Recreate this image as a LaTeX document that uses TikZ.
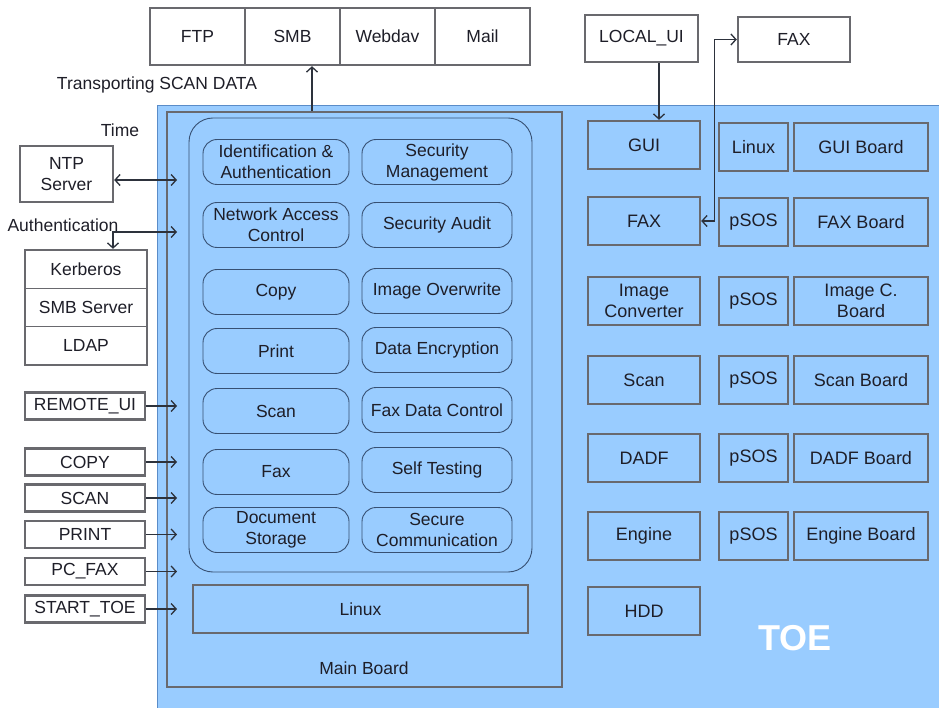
\documentclass[tikz,border=0pt]{standalone}
\usepackage{fontspec}
\setmainfont{Liberation Sans}
\usetikzlibrary{arrows.meta}
\definecolor{toeblue}{RGB}{153,204,255}
\definecolor{toeedge}{RGB}{90,140,200}
\definecolor{gborder}{RGB}{105,105,110}
\definecolor{fborder}{RGB}{55,80,115}
\definecolor{txt}{RGB}{30,30,40}
\definecolor{arrcol}{RGB}{45,50,60}
\begin{document}
\begin{tikzpicture}[x=1pt,y=-1pt,
  font=\fontsize{17.5}{21}\selectfont, text=txt,
  graybox/.style={draw=gborder, line width=2.4pt, inner sep=0pt, align=center},
  wbox/.style={graybox, fill=white},
  bbox/.style={graybox, fill=toeblue},
  func/.style={draw=fborder, line width=0.9pt, rounded corners=14pt, minimum height=45pt, inner sep=0pt, align=center},
  lfunc/.style={func, minimum width=146pt},
  rfunc/.style={func, minimum width=150pt},
  leftbox/.style={wbox, minimum width=120pt, minimum height=27pt},
  c1/.style={bbox, minimum width=112pt, minimum height=48pt, font=\fontsize{18}{21}\selectfont},
  c2/.style={bbox, minimum width=69pt, minimum height=48pt, font=\fontsize{18}{21}\selectfont},
  c3/.style={bbox, minimum width=134pt, minimum height=48pt, font=\fontsize{18}{21}\selectfont},
  arr/.style={draw=arrcol, line width=1.3pt, -{Straight Barb[length=5pt,width=11pt]}},
  darr/.style={draw=arrcol, line width=1.3pt, {Straight Barb[length=5pt,width=11pt]}-{Straight Barb[length=5pt,width=11pt]}}
]
\useasboundingbox (0,0) rectangle (939,708);
% TOE background
\fill[toeblue] (157,106) rectangle (939,708);
\draw[toeedge, line width=1pt] (157,708) -- (157,106) -- (939,106);

% Top transport boxes
\node[wbox, minimum width=95pt, minimum height=57pt] (ftp) at (197.5,36.5) {FTP};
\node[wbox, minimum width=95pt, minimum height=57pt] (smb) at (292.5,36.5) {SMB};
\node[wbox, minimum width=95pt, minimum height=57pt] (webdav) at (387.5,36.5) {Webdav};
\node[wbox, minimum width=95pt, minimum height=57pt] (mail) at (482.5,36.5) {Mail};
\node (transport) at (157,85) {Transporting SCAN DATA};

% Main board
\node[draw=gborder, line width=2.4pt, minimum width=395pt, minimum height=575pt, inner sep=0pt] (mb) at (364.5,399.5) {};
\node (mblabel) at (364,668) {Main Board};
\node[draw=fborder, line width=0.9pt, rounded corners=24pt, minimum width=343pt, minimum height=454pt, inner sep=0pt] (grp) at (360.5,345) {};
\node[bbox, minimum width=335pt, minimum height=48pt] (mlinux) at (360.5,609) {Linux};

% Function boxes
\node[lfunc] (ia) at (276,162) {Identification \&\\Authentication};
\node[rfunc] (sm) at (437,162) {Security\\Management};
\node[lfunc] (nac) at (276,225) {Network Access\\Control};
\node[rfunc] (sa) at (437,225) {Security Audit};
\node[lfunc] (fcopy) at (276,292) {Copy};
\node[rfunc] (io) at (437,291) {Image Overwrite};
\node[lfunc] (fprint) at (276,351) {Print};
\node[rfunc] (de) at (437,350) {Data Encryption};
\node[lfunc] (fscan) at (276,411) {Scan};
\node[rfunc] (fdc) at (437,410) {Fax Data Control};
\node[lfunc] (ffax) at (276,472) {Fax};
\node[rfunc] (st) at (437,470) {Self Testing};
\node[lfunc] (ds) at (276,530) {Document\\Storage};
\node[rfunc] (sc) at (437,530) {Secure\\Communication};

% Right side components
\node[wbox, minimum width=113pt, minimum height=47pt] (lui) at (641.5,38.5) {LOCAL\_UI};
\node[wbox, minimum width=112pt, minimum height=45pt] (faxt) at (794,39.5) {FAX};

\node[c1] (gui) at (644,145) {GUI};
\node[c2] (os1) at (753.5,147) {Linux};
\node[c3] (b1) at (861,147) {GUI Board};
\node[c1] (faxin) at (644,221) {FAX};
\node[c2] (os2) at (753.5,222) {pSOS};
\node[c3] (b2) at (861,222) {FAX Board};
\node[c1] (ic) at (644,301) {Image\\Converter};
\node[c2] (os3) at (753.5,301) {pSOS};
\node[c3] (b3) at (861,301) {Image C.\\Board};
\node[c1] (sscan) at (644,380) {Scan};
\node[c2] (os4) at (753.5,380) {pSOS};
\node[c3] (b4) at (861,380) {Scan Board};
\node[c1] (dadf) at (644,458) {DADF};
\node[c2] (os5) at (753.5,458) {pSOS};
\node[c3] (b5) at (861,458) {DADF Board};
\node[c1] (engine) at (644,536) {Engine};
\node[c2] (os6) at (753.5,536) {pSOS};
\node[c3] (b6) at (861,536) {Engine Board};
\node[c1] (hdd) at (644,611) {HDD};
\node[text=white, font=\fontsize{36}{40}\selectfont\bfseries] (toe) at (795,638) {TOE};

% Left side
\node[wbox, minimum width=93pt, minimum height=56pt] (ntp) at (66.5,174) {NTP\\Server};
\node (time) at (120,130) {Time};
\node (authl) at (63,225) {Authentication};
\node[wbox, minimum width=122pt, minimum height=115pt] (kstack) at (86,307.5) {};
\node[inner sep=0pt, minimum width=122pt, minimum height=38.3pt] (kerb) at (86,269.2) {Kerberos};
\node[inner sep=0pt, minimum width=122pt, minimum height=38.3pt] (smbs) at (86,307.5) {SMB Server};
\node[inner sep=0pt, minimum width=122pt, minimum height=38.3pt] (ldap) at (86,345.8) {LDAP};
\draw[gborder, line width=1pt] (kerb.south west) -- (kerb.south east);
\draw[gborder, line width=1pt] (smbs.south west) -- (smbs.south east);

\node[leftbox] (rui) at (85,406) {REMOTE\_UI};
\node[leftbox] (lcopy) at (85,462) {COPY};
\node[leftbox] (lscan) at (85,498) {SCAN};
\node[leftbox] (lprint) at (85,534.5) {PRINT};
\node[leftbox] (pcfax) at (85,571.5) {PC\_FAX};
\node[leftbox] (start) at (85,609) {START\_TOE};

% Connectors
\coordinate (inx) at (177,0);
\coordinate (tntp) at (177,180);
\coordinate (tauth) at (177,232);
\draw[darr] ([yshift=-6pt]ntp.east) -- (tntp);
\draw[darr] ([xshift=27pt]kstack.north) |- (tauth);
\draw[arr] (rui.east) -- (rui.east -| inx);
\draw[arr] (lcopy.east) -- (lcopy.east -| inx);
\draw[arr] (lscan.east) -- (lscan.east -| inx);
\draw[arr] (lprint.east) -- (lprint.east -| inx);
\draw[arr] (pcfax.east) -- (pcfax.east -| inx);
\draw[arr] (start.east) -- (start.east -| inx);

\draw[arr] ([xshift=-52.5pt]mb.north) -- ([xshift=19.5pt]smb.south);
\draw[arr] ([xshift=17.5pt]lui.south) -- ([xshift=15pt]gui.north);
\draw[darr] (faxin.east) -- ++(13,0) |- (faxt.west);
\end{tikzpicture}
\end{document}
